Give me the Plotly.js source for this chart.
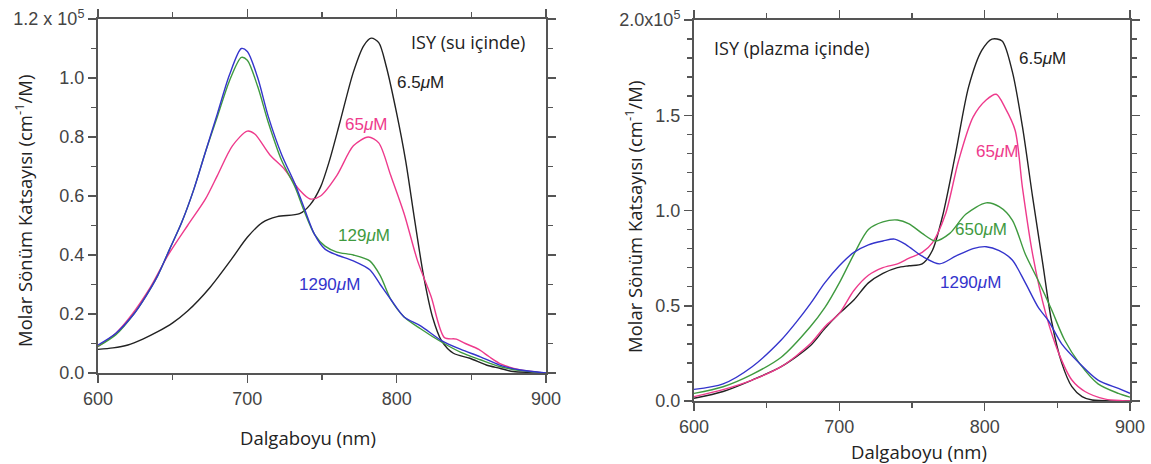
<!DOCTYPE html>
<html>
<head>
<meta charset="utf-8">
<script src="https://cdn.plot.ly/plotly-3.0.1.min.js"></script>
<style>
html,body{margin:0;padding:0;background:#fff;}
#chart{width:1151px;height:464px;}
</style>
</head>
<body>
<div id="chart"></div>
<script>
// ---- Left panel: ISY (su içinde) ----  values in units of 1e5 cm^-1/M
const suBlackX = [600,610,620,630,640,650,660,675,690,700,710,720,735,742,749,755,762,771,778,783,788,793,800,806,812,818,824,830,838,849,860,869,878,890,900];
const suBlackY = [0.08,0.085,0.095,0.115,0.14,0.17,0.21,0.29,0.39,0.46,0.51,0.53,0.54,0.57,0.63,0.72,0.85,1.02,1.11,1.135,1.12,1.04,0.88,0.72,0.52,0.33,0.19,0.11,0.067,0.05,0.027,0.016,0.005,0.002,0];

const suPinkX = [600,612,623,635,647,660,672,680,690,700,705,715,725,735,742,749,760,771,781,788,796,805,814,823,832,840,846,855,862,870,883,895,900];
const suPinkY = [0.09,0.135,0.20,0.29,0.40,0.50,0.59,0.67,0.77,0.82,0.81,0.74,0.69,0.62,0.59,0.60,0.67,0.77,0.80,0.78,0.67,0.54,0.38,0.26,0.12,0.115,0.10,0.08,0.055,0.03,0.01,0.002,0];

const suGreenX = [600,612,624,632,640,648,656,664,672,680,688,696,700,707,714,723,732,738,745,752,760,771,782,789,796,805,816,830,843,856,869,883,900];
const suGreenY = [0.09,0.13,0.20,0.26,0.33,0.42,0.51,0.62,0.75,0.87,0.99,1.07,1.06,0.97,0.85,0.72,0.63,0.55,0.47,0.43,0.41,0.40,0.38,0.33,0.25,0.19,0.15,0.105,0.07,0.045,0.022,0.008,0];

const suBlueX = [600,612,624,632,640,648,656,664,672,680,688,696,700,707,714,723,732,738,745,752,760,771,782,789,796,805,816,830,843,856,869,883,900];
const suBlueY = [0.095,0.135,0.20,0.26,0.33,0.42,0.51,0.62,0.75,0.88,1.01,1.10,1.09,1.00,0.87,0.74,0.64,0.56,0.47,0.42,0.40,0.38,0.35,0.30,0.25,0.19,0.16,0.11,0.08,0.055,0.027,0.01,0];

// ---- Right panel: ISY (plazma içinde) ----
const plBlackX = [600,620,640,660,680,690,700,710,720,730,740,748,757,764,771,780,789,798,805,812,819,826,833,840,846,853,860,867,874,890,900];
const plBlackY = [0.014,0.05,0.11,0.18,0.29,0.38,0.46,0.53,0.62,0.67,0.70,0.71,0.72,0.79,0.97,1.30,1.65,1.84,1.90,1.89,1.73,1.44,1.07,0.72,0.42,0.20,0.075,0.023,0.005,0,0];

const plPinkX = [600,620,640,660,680,690,700,710,720,730,740,748,757,764,773,782,792,801,808,814,821,826,833,842,851,860,869,883,895,900];
const plPinkY = [0.023,0.06,0.11,0.18,0.30,0.39,0.46,0.58,0.66,0.70,0.72,0.75,0.78,0.83,0.98,1.26,1.49,1.58,1.61,1.54,1.42,1.12,0.77,0.46,0.25,0.11,0.05,0.01,0.002,0];

const plGreenX = [600,620,640,660,680,690,700,710,720,730,740,748,757,766,776,787,801,810,819,828,837,846,855,865,878,892,900];
const plGreenY = [0.04,0.075,0.14,0.23,0.39,0.49,0.62,0.77,0.90,0.94,0.95,0.93,0.88,0.84,0.88,0.98,1.04,1.02,0.95,0.77,0.63,0.48,0.32,0.20,0.09,0.04,0.02];

const plBlueX = [600,620,640,660,670,680,690,700,710,720,730,738,746,757,769,780,792,801,810,819,828,837,844,853,865,878,892,900];
const plBlueY = [0.061,0.09,0.18,0.32,0.41,0.51,0.62,0.71,0.78,0.82,0.84,0.85,0.82,0.76,0.72,0.76,0.80,0.81,0.79,0.74,0.62,0.49,0.42,0.30,0.20,0.11,0.066,0.04];

const xTickVals = [600,700,800,900];
const leftYVals = [0,0.2,0.4,0.6,0.8,1.0,1.2];
const leftYText = ['0.0','0.2','0.4','0.6','0.8','1.0','1.2 x 10<sup>5</sup>'];
const rightYVals = [0,0.5,1.0,1.5,2.0];
const rightYText = ['0.0','0.5','1.0','1.5','2.0x10<sup>5</sup>'];

const cBlack = '#222222', cPink = '#ee3a8c', cGreen = '#3f9a3f', cBlue = '#3434cc';
const W = 1151, H = 464;

function tr(x, y, color, xa, ya){
  return {x:x, y:y, type:'scatter', mode:'lines', xaxis:xa, yaxis:ya,
    line:{color:color, width:1.4, shape:'spline', smoothing:0.8}, showlegend:false, hoverinfo:'skip'};
}
const data = [
  tr(suBlackX, suBlackY, cBlack, 'x', 'y'),
  tr(suPinkX, suPinkY, cPink, 'x', 'y'),
  tr(suGreenX, suGreenY, cGreen, 'x', 'y'),
  tr(suBlueX, suBlueY, cBlue, 'x', 'y'),
  tr(plBlackX, plBlackY, cBlack, 'x2', 'y2'),
  tr(plPinkX, plPinkY, cPink, 'x2', 'y2'),
  tr(plGreenX, plGreenY, cGreen, 'x2', 'y2'),
  tr(plBlueX, plBlueY, cBlue, 'x2', 'y2')
];

const tickFont = {family:'Liberation Sans, Arial, sans-serif', size:18, color:'#444'};
function xax(dom){
  return {domain:dom, range:[600,900], tickvals:xTickVals, ticks:'outside', ticklen:8, tickwidth:1.5,
    tickcolor:'#555', showline:true, linecolor:'#555', linewidth:2, mirror:'ticks', showgrid:false,
    zeroline:false, tickfont:tickFont, fixedrange:true,
    minor:{dtick:50, ticks:'outside', ticklen:5, tickwidth:1.5, tickcolor:'#555', showgrid:false}};
}
function yax(dom, rng, vals, text, anchor){
  return {domain:dom, range:rng, tickvals:vals, ticktext:text, ticks:'outside', ticklen:8, tickwidth:1.5,
    tickcolor:'#555', showline:true, linecolor:'#555', linewidth:2, mirror:'ticks', showgrid:false,
    zeroline:false, tickfont:tickFont, anchor:anchor, fixedrange:true,
    minor:{dtick:0.1, ticks:'outside', ticklen:5, tickwidth:1.5, tickcolor:'#555', showgrid:false}};
}

const px = v => v / W, py = v => 1 - v / H;
const titleFont = {family:'Open Sans, sans-serif', size:18.5, color:'#222'};
const labFont = (c) => ({family:'Liberation Sans, Arial, sans-serif', size:17, color:c});
const isyFont = {family:'Open Sans, sans-serif', size:18, color:'#222'};
function ann(text, x, y, font, angle){
  return {text:text, x:px(x), y:py(y), xref:'paper', yref:'paper', xanchor:'center', yanchor:'middle',
    showarrow:false, font:font, textangle:angle || 0};
}

const layout = {
  width:W, height:H, margin:{l:0, r:0, t:0, b:0}, paper_bgcolor:'#fff', plot_bgcolor:'#fff',
  showlegend:false,
  xaxis: Object.assign(xax([98/W, 546/W]), {anchor:'y'}),
  yaxis: yax([1-373/H, 1-19/H], [0,1.2], leftYVals, leftYText, 'x'),
  xaxis2: Object.assign(xax([694/W, 1130/W]), {anchor:'y2'}),
  yaxis2: yax([1-401/H, 1-20/H], [0,2.0], rightYVals, rightYText, 'x2'),
  annotations:[
    ann('Molar Sönüm Katsayısı (cm<sup>-1</sup>/M)', 24, 211, titleFont, -90),
    ann('Dalgaboyu (nm)', 308, 437, titleFont),
    ann('Molar Sönüm Katsayısı (cm<sup>-1</sup>/M)', 633, 217, titleFont, -90),
    ann('Dalgaboyu (nm)', 919, 451, titleFont),
    ann('ISY (su içinde)', 468, 42, isyFont),
    ann('6.5<i>μ</i>M', 420, 82, labFont(cBlack)),
    ann('65<i>μ</i>M', 366, 125, labFont(cPink)),
    ann('129<i>μ</i>M', 364, 235, labFont(cGreen)),
    ann('1290<i>μ</i>M', 329, 284, labFont(cBlue)),
    ann('ISY (plazma içinde)', 791, 48, isyFont),
    ann('6.5<i>μ</i>M', 1042, 58, labFont(cBlack)),
    ann('65<i>μ</i>M', 997, 151, labFont(cPink)),
    ann('650<i>μ</i>M', 981, 229, labFont(cGreen)),
    ann('1290<i>μ</i>M', 970, 282, labFont(cBlue))
  ]
};

Plotly.newPlot('chart', data, layout, {displayModeBar:false, staticPlot:true});
</script>
</body>
</html>
